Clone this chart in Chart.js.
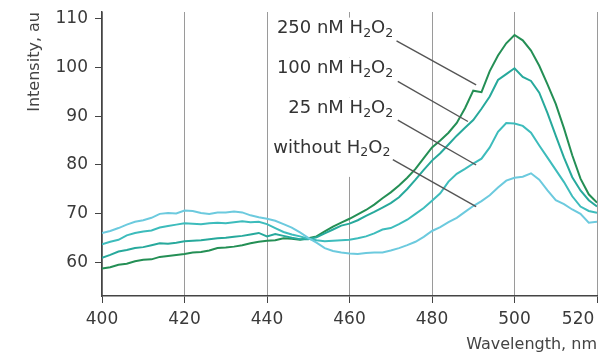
<!DOCTYPE html>
<html lang="en">
<head>
  <meta charset="UTF-8">
  <title>Fluorescence spectra with H2O2</title>
  <script src="https://cdn.jsdelivr.net/npm/chart.js"></script>
  <style>
    body { margin: 0; background: white; }
  </style>
</head>
<body>
<canvas id="spectra" width="599" height="354"></canvas>

<script>
// wavelength, nm (2 nm steps)
const wavelengths = [
  400, 402, 404, 406, 408, 410, 412, 414, 416, 418,
  420, 422, 424, 426, 428, 430, 432, 434, 436, 438,
  440, 442, 444, 446, 448, 450, 452, 454, 456, 458,
  460, 462, 464, 466, 468, 470, 472, 474, 476, 478,
  480, 482, 484, 486, 488, 490, 492, 494, 496, 498,
  500, 502, 504, 506, 508, 510, 512, 514, 516, 518,
  520
];

const nm250 = [
  58.8, 59.1, 59.6, 59.8, 60.3, 60.6, 60.7, 61.2, 61.4, 61.6,
  61.8, 62.1, 62.2, 62.5, 63.0, 63.1, 63.3, 63.6, 64.0, 64.3,
  64.5, 64.6, 65.0, 64.9, 64.7, 65.0, 65.4, 66.4, 67.4, 68.2,
  69.0, 69.9, 70.8, 71.9, 73.2, 74.4, 75.8, 77.4, 79.2, 81.4,
  83.6, 85.0, 86.6, 88.6, 91.6, 95.2, 94.9, 99.2, 102.4, 104.9,
  106.6, 105.5, 103.4, 100.3, 96.5, 92.5, 87.5, 82.0, 77.2, 74.0,
  72.3
];

const nm100 = [
  61.0, 61.6, 62.3, 62.6, 63.0, 63.2, 63.6, 64.0, 63.9, 64.1,
  64.4, 64.5, 64.6, 64.8, 65.0, 65.1, 65.3, 65.5, 65.8, 66.1,
  65.4, 65.9, 65.5, 65.1, 64.8, 64.8, 65.2, 66.0, 66.8, 67.6,
  68.0, 68.7, 69.6, 70.4, 71.3, 72.2, 73.4, 75.1, 77.0, 79.0,
  80.9, 82.4, 84.2, 86.0, 87.6, 89.2, 91.5, 94.0, 97.4, 98.6,
  99.8, 98.0, 97.2, 94.8, 90.6, 86.0, 81.5, 77.5, 74.8, 72.8,
  71.5
];

const nm25 = [
  63.8, 64.3, 64.7, 65.6, 66.1, 66.4, 66.6, 67.2, 67.5, 67.8,
  68.1, 68.0, 67.9, 68.1, 68.2, 68.1, 68.3, 68.5, 68.3, 68.4,
  67.9, 67.1, 66.3, 65.8, 65.4, 64.9, 64.6, 64.4, 64.5, 64.6,
  64.7, 65.0, 65.4, 66.0, 66.8, 67.1, 67.9, 68.8, 70.0, 71.2,
  72.7, 74.2, 76.6, 78.2, 79.2, 80.3, 81.3, 83.6, 86.8, 88.6,
  88.5, 88.0, 86.6, 84.0, 81.5, 79.0, 76.5, 73.6, 71.5, 70.6,
  70.2
];

const noPeroxide = [
  66.1, 66.5, 67.1, 67.8, 68.4, 68.7, 69.2, 70.0, 70.2, 70.1,
  70.7, 70.6, 70.2, 70.0, 70.3, 70.3, 70.5, 70.3, 69.7, 69.3,
  69.0, 68.6, 67.9, 67.2, 66.2, 65.1, 64.1, 63.0, 62.4, 62.1,
  61.9, 61.8, 62.0, 62.1, 62.1, 62.5, 63.0, 63.6, 64.3, 65.3,
  66.5, 67.3, 68.3, 69.2, 70.4, 71.6, 72.6, 73.8, 75.4, 76.8,
  77.4, 77.6, 78.3, 77.0, 74.8, 72.8, 72.0, 70.9, 70.0, 68.2,
  68.4
];

const xTicks = [400, 420, 440, 460, 480, 500, 520];
const yTicks = [60, 70, 80, 90, 100, 110];

// callout labels, in data units (label right edge / centre, leader start, leader end)
const labelNames = ['250 nM', '100 nM', '25 nM', 'without'];
const labelX = [470.6, 470.6, 470.6, 469.9];
const labelY = [107.9, 99.7, 91.5, 83.5];
const leadFromX = [471.4, 471.7, 471.7, 470.5];
const leadFromY = [105.4, 97.1, 89.2, 81.1];
const leadToX = [490.7, 488.7, 490.7, 490.7];
const leadToY = [96.4, 88.9, 80.0, 71.5];

const FONT = '"DejaVu Sans", sans-serif';

function pairs(vals) {
  return vals.map((v, i) => ({ x: wavelengths[i], y: v }));
}

const calloutPlugin = {
  id: 'callouts',
  afterDatasetsDraw(chart) {
    const ctx = chart.ctx;
    const xs = chart.scales.x;
    const ys = chart.scales.y;
    ctx.save();
    const big = '18px ' + FONT;
    const small = '12.5px ' + FONT;
    for (let i = 0; i < labelNames.length; i++) {
      const parts = [[labelNames[i] + ' H', false], ['2', true], ['O', false], ['2', true]];
      let w = 0;
      parts.forEach(p => { ctx.font = p[1] ? small : big; w += ctx.measureText(p[0]).width; });
      const right = xs.getPixelForValue(labelX[i]);
      const cy = ys.getPixelForValue(labelY[i]);
      let left = right - w;

      // white box hides the grid lines behind the text
      ctx.fillStyle = '#fff';
      ctx.fillRect(left - 5, cy - 11, w + 8, 40);

      ctx.fillStyle = '#333';
      ctx.textBaseline = 'middle';
      ctx.textAlign = 'left';
      parts.forEach(p => {
        ctx.font = p[1] ? small : big;
        ctx.fillText(p[0], left, p[1] ? cy + 5 : cy);
        left += ctx.measureText(p[0]).width;
      });

      ctx.strokeStyle = '#555';
      ctx.lineWidth = 1.4;
      ctx.beginPath();
      ctx.moveTo(xs.getPixelForValue(leadFromX[i]), ys.getPixelForValue(leadFromY[i]));
      ctx.lineTo(xs.getPixelForValue(leadToX[i]), ys.getPixelForValue(leadToY[i]));
      ctx.stroke();
    }
    ctx.restore();
  }
};

const lineStyle = { borderWidth: 2, pointRadius: 0, tension: 0, fill: false };

new Chart(document.getElementById('spectra'), {
  type: 'line',
  data: {
    datasets: [
      Object.assign({ label: 'without H2O2', data: pairs(noPeroxide), borderColor: '#6ccade' }, lineStyle),
      Object.assign({ label: '25 nM H2O2', data: pairs(nm25), borderColor: '#3dbcbc' }, lineStyle),
      Object.assign({ label: '100 nM H2O2', data: pairs(nm100), borderColor: '#27a99c' }, lineStyle),
      Object.assign({ label: '250 nM H2O2', data: pairs(nm250), borderColor: '#248f55' }, lineStyle)
    ]
  },
  options: {
    responsive: false,
    animation: false,
    layout: { padding: { top: 12, right: 2, left: 0, bottom: 0 } },
    plugins: { legend: { display: false }, tooltip: { enabled: false } },
    scales: {
      x: {
        type: 'linear',
        min: 400,
        max: 520,
        afterBuildTicks: s => { s.ticks = xTicks.map(v => ({ value: v })); },
        afterFit: s => { s.height = 58; s.paddingRight = 0; s.paddingLeft = 0; },
        border: { color: '#444', width: 1.5 },
        grid: { color: '#9a9a9a', lineWidth: 1, tickLength: 7, tickColor: '#444' },
        ticks: {
          color: '#3a3a3a',
          font: { family: FONT, size: 17 },
          padding: 6,
          maxRotation: 0,
          autoSkip: false,
          callback: v => v === 520 ? '520\u00a0\u00a0\u00a0\u00a0\u00a0\u00a0\u00a0' : String(v)
        },
        title: {
          display: true,
          text: 'Wavelength, nm',
          align: 'end',
          color: '#444',
          font: { family: FONT, size: 16 },
          padding: { top: 0, bottom: 0 }
        }
      },
      y: {
        min: 53.2,
        max: 111.3,
        afterBuildTicks: s => { s.ticks = yTicks.map(v => ({ value: v })); },
        afterFit: s => { s.width = 102; s.paddingTop = 0; s.paddingBottom = 0; },
        border: { color: '#444', width: 1.5 },
        grid: { drawOnChartArea: false, tickLength: 7, tickColor: '#444' },
        ticks: {
          color: '#3a3a3a',
          font: { family: FONT, size: 17 },
          padding: 7
        },
        title: {
          display: true,
          text: 'Intensity, au',
          align: 'end',
          color: '#444',
          font: { family: FONT, size: 16 },
          padding: { top: 25, bottom: 0 }
        }
      }
    }
  },
  plugins: [calloutPlugin]
});
</script>
</body>
</html>
